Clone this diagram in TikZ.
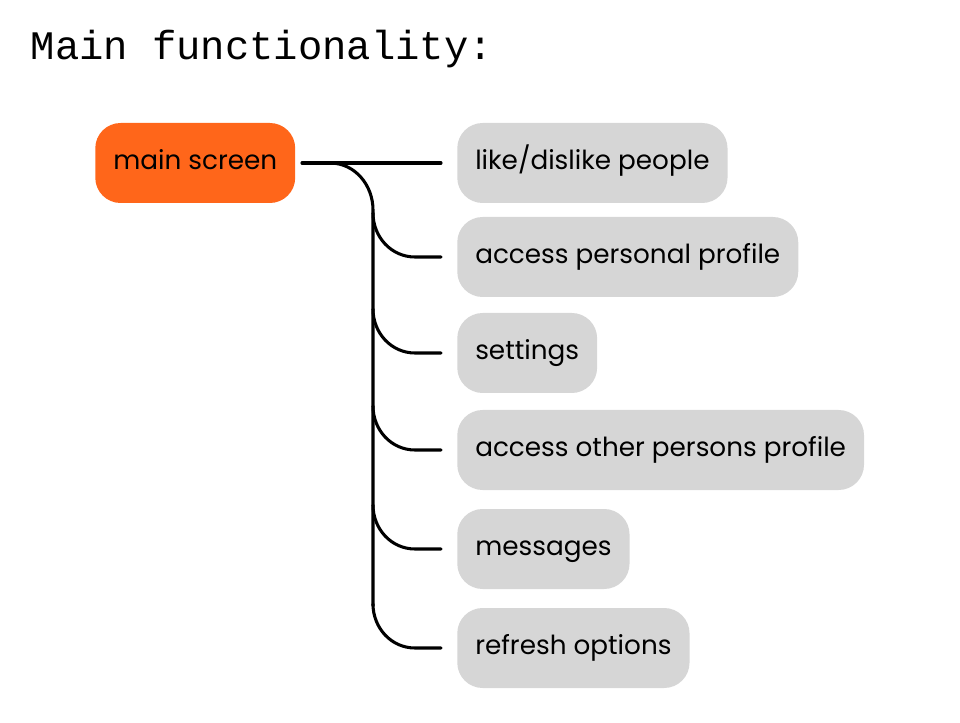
\documentclass[tikz,border=0pt]{standalone}
\usepackage{fontspec}
\setmainfont{Poppins}
\setmonofont{Liberation Mono}
\definecolor{mainorange}{HTML}{FF661A}
\definecolor{itemgray}{HTML}{D6D6D6}
\begin{document}
\begin{tikzpicture}[x=0.75pt,y=-0.75pt,
    box/.style={rounded corners=19pt, minimum height=60pt, inner xsep=13.5pt,
        text height=13pt, text depth=3pt,
        anchor=west, font=\fontsize{19.7}{22}\selectfont},
    item/.style={box, fill=itemgray},
    link/.style={line width=2.3pt, line cap=round}]
    \useasboundingbox (0,0) rectangle (960,723);
    \node[anchor=base west, font=\ttfamily\fontsize{30.4}{32}\selectfont] (title) at (26,60) {Main functionality:};
    \node[box, fill=mainorange, minimum width=147pt] (main) at (95,163) {main screen};
    \node[item] (i1) at (457,163) {like/dislike people};
    \node[item] (i2) at (457,257) {access personal profile};
    \node[item] (i3) at (457,353) {settings};
    \node[item] (i4) at (457,450) {access other persons profile};
    \node[item] (i5) at (457,549) {messages};
    \node[item] (i6) at (457,648) {refresh options};
    \coordinate (root) at (302,163);
    \coordinate (fork) at (330,163);
    \draw[link] (root) -- ([xshift=-12pt]i1.west);
    % trunk
    \draw[link] (fork) to[out=0,in=90] (373,210) -- (373,606);
    \foreach \i/\y in {2/257,3/353,4/450,5/549,6/648}{
        \draw[link] (373,\y-44) to[out=-90,in=180] (415,\y) -- ([xshift=-12pt]i\i.west);
    }
\end{tikzpicture}
\end{document}
